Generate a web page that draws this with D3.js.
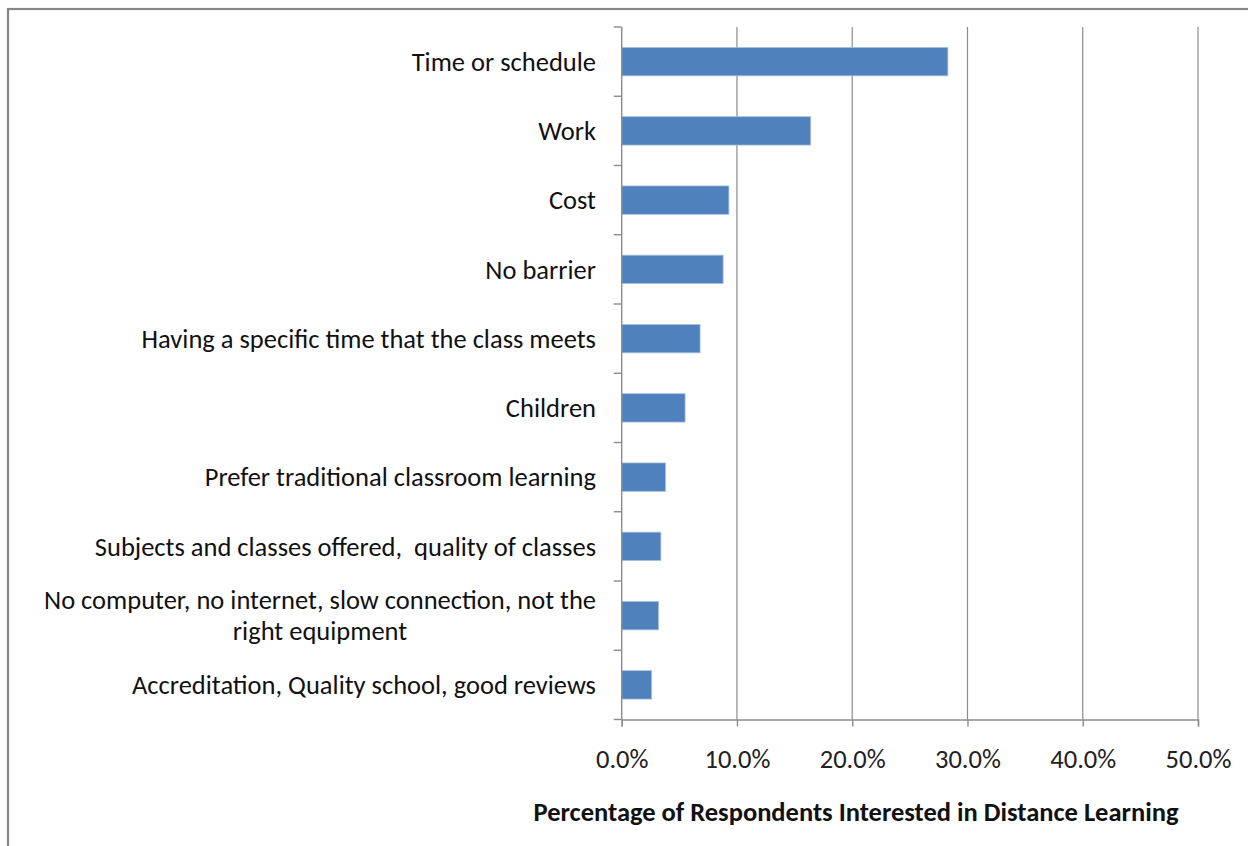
<!DOCTYPE html>
<html>
<head>
<meta charset="utf-8">
<script src="https://cdn.jsdelivr.net/npm/d3@7"></script>
<style>
  html, body { margin: 0; padding: 0; background: #fff; }
  svg { display: block; }
  text { font-family: Carlito, Calibri, Lato, "Open Sans", sans-serif; white-space: pre; }
</style>
</head>
<body>
<svg id="chart" width="1248" height="846"></svg>
<script>
const categories = [
  "Time or schedule",
  "Work",
  "Cost",
  "No barrier",
  "Having a specific time that the class meets",
  "Children",
  "Prefer traditional classroom learning",
  "Subjects and classes offered,  quality of classes",
  "No computer, no internet, slow connection, not the|right equipment",
  "Accreditation, Quality school, good reviews"
];
const values = [0.283, 0.164, 0.093, 0.088, 0.068, 0.055, 0.038, 0.034, 0.032, 0.026];
const xTicks = [0, 0.1, 0.2, 0.3, 0.4, 0.5];
const xTitle = "Percentage of Respondents Interested in Distance Learning";

(function () {
const svg = d3.select("#chart");
const pLeft = 621.7, pRight = 1198, pTop = 27, pBottom = 719.5;

// outer frame
svg.append("rect")
  .attr("x", 8).attr("y", 9).attr("width", 1400).attr("height", 1000)
  .attr("fill", "none").attr("stroke", "#858585").attr("stroke-width", 2.2);

const x = d3.scaleLinear().domain([0, 0.5]).range([pLeft, pRight]);
const y = d3.scaleBand().domain(categories).range([pTop, pBottom])
  .paddingInner(0.59).paddingOuter(0.295);

// gridlines
svg.append("g").selectAll("line").data(xTicks.slice(1)).join("line")
  .attr("x1", d => x(d)).attr("x2", d => x(d))
  .attr("y1", pTop).attr("y2", pBottom)
  .attr("stroke", "#8c8c8c").attr("stroke-width", 1.2);

// bars
svg.append("g").selectAll("rect").data(values).join("rect")
  .attr("x", x(0))
  .attr("y", (d, i) => y(categories[i]))
  .attr("width", d => x(d) - x(0))
  .attr("height", y.bandwidth())
  .attr("fill", "#4f81bd")
  .attr("stroke", "#a7c0de").attr("stroke-width", 0.8);

// y axis line and boundary ticks
const step = y.step();
const boundaries = d3.range(categories.length + 1);
svg.append("line")
  .attr("x1", pLeft).attr("x2", pLeft).attr("y1", pTop).attr("y2", pBottom)
  .attr("stroke", "#8c8c8c").attr("stroke-width", 1.4);
svg.append("g").selectAll("line").data(boundaries).join("line")
  .attr("x1", pLeft - 8).attr("x2", pLeft)
  .attr("y1", i => pTop + i * step).attr("y2", i => pTop + i * step)
  .attr("stroke", "#8c8c8c").attr("stroke-width", 1.4);

// x axis
const xAxis = d3.axisBottom(x).tickValues(xTicks)
  .tickFormat(d3.format(".1%")).tickSize(7).tickPadding(23);
const gx = svg.append("g").attr("transform", `translate(0,${pBottom})`).call(xAxis);
gx.select(".domain").attr("stroke", "#8c8c8c").attr("stroke-width", 1.4);
gx.selectAll(".tick line").attr("stroke", "#8c8c8c").attr("stroke-width", 1.4);
gx.selectAll(".tick text")
  .attr("font-family", "Carlito, Calibri, Lato, sans-serif")
  .attr("font-size", 26.5).attr("fill", "#222");

// category labels
const labelRight = 596;
const lg = svg.append("g");
categories.forEach((c, i) => {
  const lines = c.split("|");
  const cy = y(c) + y.bandwidth() / 2;
  const lh = 31;
  const t = lg.append("text")
    .attr("font-size", 26.5).attr("fill", "#111");
  lines.forEach((ln, j) => {
    t.append("tspan").text(ln)
      .attr("y", cy + (j - (lines.length - 1) / 2) * lh)
      .attr("dy", "0.35em");
  });
  if (lines.length === 1) {
    t.attr("text-anchor", "end").selectAll("tspan").attr("x", labelRight);
  } else {
    const widths = [];
    t.selectAll("tspan").each(function () { widths.push(this.getComputedTextLength()); });
    const mid = labelRight - d3.max(widths) / 2;
    t.attr("text-anchor", "middle").selectAll("tspan").attr("x", mid);
  }
});

// axis title
svg.append("text")
  .attr("x", 856).attr("y", 812).attr("dy", "0.35em")
  .attr("text-anchor", "middle")
  .attr("font-size", 26.5).attr("font-weight", "bold").attr("fill", "#111")
  .text(xTitle);
})();
</script>
</body>
</html>
